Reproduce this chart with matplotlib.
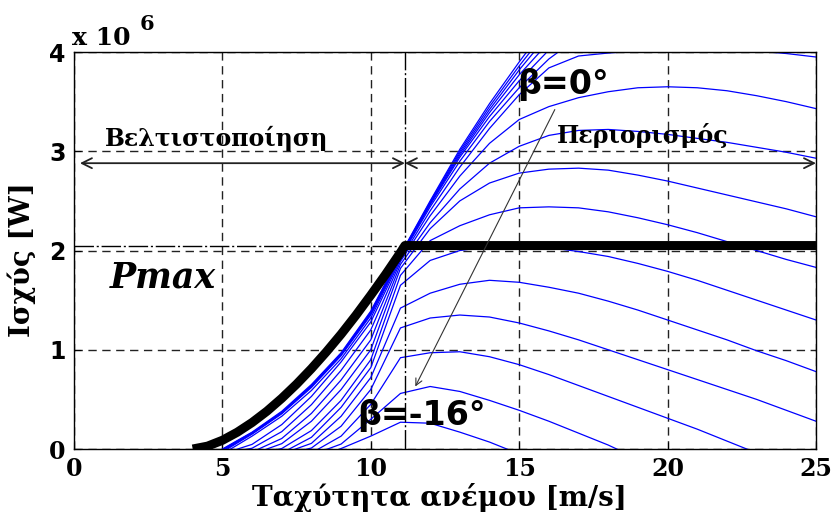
import matplotlib
matplotlib.use('Agg')
import matplotlib.pyplot as plt

# wind speed grid [m/s]
v = [4, 5, 6, 7, 8, 9, 10, 11, 12, 13, 14, 15, 16, 17, 18, 19, 20, 21, 22, 23, 24, 25]

# turbine power for pitch angle beta = 0 ... -16 deg  (units of 1e6 W)
p_b00 = [-0.15, 0.0, 0.17, 0.38, 0.65, 0.97, 1.39, 1.96, 2.50, 3.02, 3.48, 3.90, 4.30, 4.65, 4.95, 5.20, 5.40, 5.55, 5.65, 5.70, 5.72, 5.70]
p_b01 = [-0.16, -0.005, 0.165, 0.37, 0.64, 0.96, 1.38, 1.955, 2.49, 3.00, 3.45, 3.86, 4.24, 4.57, 4.85, 5.08, 5.26, 5.40, 5.50, 5.55, 5.57, 5.56]
p_b02 = [-0.17, -0.01, 0.16, 0.365, 0.635, 0.955, 1.37, 1.95, 2.48, 2.98, 3.42, 3.82, 4.18, 4.48, 4.74, 4.95, 5.10, 5.22, 5.30, 5.34, 5.35, 5.33]
p_b03 = [-0.18, -0.02, 0.155, 0.36, 0.63, 0.95, 1.36, 1.945, 2.47, 2.96, 3.39, 3.77, 4.10, 4.38, 4.60, 4.78, 4.92, 5.02, 5.08, 5.10, 5.10, 5.07]
p_b04 = [-0.19, -0.03, 0.15, 0.355, 0.62, 0.94, 1.35, 1.94, 2.46, 2.94, 3.35, 3.71, 4.02, 4.27, 4.47, 4.62, 4.73, 4.80, 4.84, 4.85, 4.83, 4.79]
p_b05 = [-0.20, -0.05, 0.13, 0.33, 0.59, 0.91, 1.32, 1.93, 2.44, 2.90, 3.30, 3.64, 3.93, 4.15, 4.31, 4.42, 4.49, 4.52, 4.52, 4.50, 4.46, 4.40]
p_b06 = [-0.20, -0.05, 0.047, 0.246, 0.53, 0.878, 1.28, 1.91, 2.40, 2.84, 3.23, 3.57, 3.84, 3.96, 3.99, 4.01, 4.03, 4.035, 4.03, 4.01, 3.985, 3.95]
p_b07 = [-0.20, -0.05, 0.008, 0.175, 0.447, 0.793, 1.20, 1.89, 2.35, 2.75, 3.08, 3.32, 3.45, 3.54, 3.60, 3.64, 3.65, 3.64, 3.61, 3.56, 3.50, 3.43]
p_b08 = [-0.25, -0.15, -0.03, 0.106, 0.359, 0.696, 1.10, 1.86, 2.28, 2.62, 2.88, 3.05, 3.16, 3.21, 3.22, 3.20, 3.17, 3.13, 3.09, 3.04, 2.99, 2.93]
p_b09 = [-0.30, -0.20, -0.054, 0.054, 0.28, 0.60, 1.00, 1.82, 2.22, 2.50, 2.68, 2.78, 2.82, 2.83, 2.81, 2.76, 2.70, 2.63, 2.56, 2.49, 2.42, 2.34]
p_b10 = [-0.30, -0.20, -0.05, 0.005, 0.186, 0.49, 0.90, 1.75, 2.10, 2.25, 2.36, 2.43, 2.44, 2.43, 2.39, 2.33, 2.26, 2.18, 2.09, 2.00, 1.91, 1.83]
p_b11 = [-0.35, -0.25, -0.15, -0.04, 0.118, 0.42, 0.82, 1.65, 1.90, 2.00, 2.04, 2.05, 2.03, 1.99, 1.94, 1.87, 1.79, 1.70, 1.60, 1.50, 1.40, 1.30]
p_b12 = [-0.35, -0.25, -0.15, -0.05, 0.057, 0.33, 0.72, 1.42, 1.57, 1.66, 1.70, 1.68, 1.63, 1.57, 1.49, 1.40, 1.30, 1.20, 1.10, 0.99, 0.89, 0.78]
p_b13 = [-0.40, -0.30, -0.20, -0.06, 0.01, 0.23, 0.60, 1.22, 1.32, 1.35, 1.33, 1.27, 1.19, 1.10, 1.00, 0.90, 0.80, 0.70, 0.60, 0.50, 0.39, 0.28]
p_b14 = [-0.40, -0.30, -0.20, -0.10, -0.04, 0.13, 0.45, 0.92, 0.97, 0.98, 0.93, 0.85, 0.75, 0.64, 0.53, 0.42, 0.31, 0.20, 0.08, -0.04, -0.16, -0.28]
p_b15 = [-0.45, -0.35, -0.25, -0.15, -0.06, 0.05, 0.30, 0.56, 0.63, 0.58, 0.49, 0.39, 0.28, 0.16, 0.04, -0.10, -0.25, -0.40, -0.55, -0.70, -0.85, -1.00]
p_b16 = [-0.45, -0.40, -0.30, -0.20, -0.11, 0.005, 0.13, 0.27, 0.26, 0.17, 0.07, -0.05, -0.18, -0.31, -0.44, -0.57, -0.70, -0.83, -0.96, -1.09, -1.22, -1.35]

curves = [p_b00, p_b01, p_b02, p_b03, p_b04, p_b05, p_b06, p_b07, p_b08,
          p_b09, p_b10, p_b11, p_b12, p_b13, p_b14, p_b15, p_b16]

# optimal (MPPT) curve up to rated speed, then limited to Pmax
v_opt = [4.0, 4.5, 5.0, 5.5, 6.0, 6.5, 7.0, 7.5, 8.0, 8.5, 9.0, 9.5, 10.0, 10.5, 11.0, 11.15]
p_opt = [0.0, 0.029, 0.088, 0.169, 0.267, 0.381, 0.511, 0.654, 0.81, 0.978, 1.157, 1.348, 1.55, 1.76, 1.98, 2.05]
v_rated = 11.15
p_max = 2.05
v_max = 25

x_ticks = [0, 5, 10, 15, 20, 25]
y_ticks = [0, 1, 2, 3, 4]

serif = 'DejaVu Serif'
sans = 'DejaVu Sans'

fig = plt.figure(figsize=(8.4, 5.24), dpi=100)
ax = fig.add_axes([0.0881, 0.1431, 0.8833, 0.7576])

for p in curves:
    ax.plot(v, p, color='#0000ff', lw=0.9, zorder=2)

ax.plot(v_opt + [v_max], p_opt + [p_max], color='black', lw=6.5,
        solid_capstyle='butt', solid_joinstyle='round', zorder=5)

# rated speed / rated power markers
ax.axvline(v_rated, color='black', lw=1.0, ls=(0, (14, 2, 1.5, 2)), zorder=3)
ax.axhline(p_max, color='black', lw=1.0, ls=(0, (14, 2, 1.5, 2)), zorder=3)

ax.set_xlim(0, 25)
ax.set_ylim(0, 4)
ax.set_xticks(x_ticks)
ax.set_yticks(y_ticks)
ax.set_xticklabels([str(t) for t in x_ticks], fontfamily=serif, fontweight='bold', fontsize=17)
ax.set_yticklabels([str(t) for t in y_ticks], fontweight='bold', fontsize=17)
for i, lab in enumerate(ax.get_yticklabels()):
    lab.set_family(serif if i == 0 else sans)
ax.tick_params(direction='in', length=5, width=0.8, pad=6)
ax.grid(True, color='#222222', lw=1.0, ls=(0, (6, 4)))
ax.set_axisbelow(True)
for s in ax.spines.values():
    s.set_linewidth(1.0)

# region arrows
y_arr = 2.88
kw = dict(arrowstyle='<->', color='#222222', lw=1.3, mutation_scale=18, shrinkA=0, shrinkB=0)
ax.annotate('', xy=(0.2, y_arr), xytext=(v_rated, y_arr), arrowprops=kw, zorder=6)
ax.annotate('', xy=(v_rated, y_arr), xytext=(25, y_arr), arrowprops=kw, zorder=6)

ax.text(4.8, 3.05, 'Βελτιστοποίηση', fontfamily=serif, fontweight='bold', fontsize=17,
        ha='center', va='baseline', zorder=7)
ax.text(19.15, 3.08, 'Περιορισμός', fontfamily=serif, fontweight='bold', fontsize=17,
        ha='center', va='baseline', zorder=7)

ax.text(1.2, 1.73, 'Pmax', fontfamily=serif, fontweight='bold', fontstyle='italic',
        fontsize=25, ha='left', va='center', zorder=7)

ax.text(14.93, 3.67, 'β=0°', fontfamily=sans, fontweight='bold', fontsize=24,
        ha='left', va='center', zorder=7)
ax.text(9.53, 0.34, 'β=-16°', fontfamily=sans, fontweight='bold', fontsize=24,
        ha='left', va='center', zorder=7)
ax.annotate('', xy=(11.5, 0.63), xytext=(16.2, 3.42),
            arrowprops=dict(arrowstyle='->', color='#333333', lw=0.8, mutation_scale=12,
                            shrinkA=0, shrinkB=0), zorder=6)

# axis labels and scale factor
fig.text(439 / 840, 1 - 506 / 524, 'Ταχύτητα ανέμου [m/s]', fontfamily=serif,
         fontweight='bold', fontsize=20, ha='center', va='baseline')
fig.text(22 / 840, 1 - 260 / 524, 'Ισχύς [W]', fontfamily=serif, fontweight='bold',
         fontsize=20, rotation=90, ha='center', va='center')
fig.text(72 / 840, 1 - 45 / 524, 'x 10', fontfamily=serif, fontweight='bold',
         fontsize=18, ha='left', va='baseline')
fig.text(140 / 840, 1 - 30 / 524, '6', fontfamily=serif, fontweight='bold',
         fontsize=15, ha='left', va='baseline')

fig.savefig('out.png', dpi=100)
